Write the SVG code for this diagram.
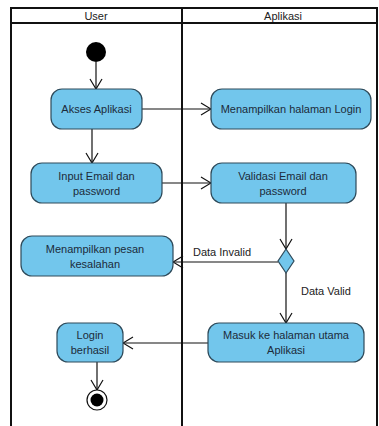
<svg xmlns="http://www.w3.org/2000/svg" width="379" height="426" viewBox="0 0 379 426">
<style>
.frame{fill:none;stroke:#111;stroke-width:2}
.node{fill:#72C6EC;stroke:#2E4A5A;stroke-width:1.2}
.t{font-family:"Liberation Sans",Arial,sans-serif;font-size:11px;fill:#1C2B3A;text-anchor:middle}
.h{font-family:"Liberation Sans",Arial,sans-serif;font-size:11px;fill:#222;text-anchor:middle}
.lbl{font-family:"Liberation Sans",Arial,sans-serif;font-size:11px;fill:#222}
.c{fill:none;stroke:#111;stroke-width:1.2}
</style>
<defs>
<marker id="arr" markerUnits="userSpaceOnUse" markerWidth="12" markerHeight="14" viewBox="0 0 12 14" refX="11" refY="7" orient="auto">
<path d="M1,1 L11,7 L1,13" fill="none" stroke="#111" stroke-width="1.2"/>
</marker>
</defs>
<g id="swimlanes">
<rect class="frame" x="11" y="8" width="366" height="420"/>
<line class="frame" x1="11" y1="23" x2="377" y2="23"/>
<line class="frame" x1="182" y1="8" x2="182" y2="428"/>
<text class="h" x="96" y="20">User</text>
<text class="h" x="283" y="20">Aplikasi</text>
</g>
<g id="connectors">
<line class="c" x1="96" y1="62" x2="96" y2="89" marker-end="url(#arr)"/>
<line class="c" x1="142" y1="109" x2="211" y2="109" marker-end="url(#arr)"/>
<line class="c" x1="92" y1="129" x2="92" y2="163" marker-end="url(#arr)"/>
<line class="c" x1="162" y1="183" x2="211" y2="183" marker-end="url(#arr)"/>
<line class="c" x1="286" y1="203" x2="286" y2="249" marker-end="url(#arr)"/>
<line class="c" x1="278" y1="262" x2="173" y2="262" marker-end="url(#arr)"/>
<line class="c" x1="286" y1="273" x2="286" y2="323" marker-end="url(#arr)"/>
<line class="c" x1="208" y1="343" x2="123" y2="343" marker-end="url(#arr)"/>
<line class="c" x1="97" y1="362" x2="97" y2="390" marker-end="url(#arr)"/>
<text class="lbl" x="193" y="256">Data Invalid</text>
<text class="lbl" x="301" y="295">Data Valid</text>
</g>
<g id="start"><circle cx="96" cy="52" r="10" fill="#000"/></g>
<g id="akses">
<rect class="node" x="51" y="89" width="91" height="40" rx="11"/>
<text class="t" x="96.5" y="113">Akses Aplikasi</text>
</g>
<g id="menampilkan-login">
<rect class="node" x="211" y="89" width="160" height="40" rx="11"/>
<text class="t" x="291" y="113">Menampilkan halaman Login</text>
</g>
<g id="input">
<rect class="node" x="31" y="163" width="131" height="40" rx="11"/>
<text class="t" x="96.5" y="180">Input Email dan</text>
<text class="t" x="96.5" y="195">password</text>
</g>
<g id="validasi">
<rect class="node" x="211" y="163" width="145" height="40" rx="11"/>
<text class="t" x="283" y="180">Validasi Email dan</text>
<text class="t" x="283" y="195">password</text>
</g>
<g id="decision">
<polygon class="node" points="286,249 294,261 286,273 278,261"/>
</g>
<g id="pesan">
<rect class="node" x="21" y="236" width="152" height="40" rx="11"/>
<text class="t" x="95" y="253">Menampilkan pesan</text>
<text class="t" x="95" y="268">kesalahan</text>
</g>
<g id="masuk">
<rect class="node" x="208" y="323" width="156" height="39" rx="11"/>
<text class="t" x="286" y="339">Masuk ke halaman utama</text>
<text class="t" x="286" y="354">Aplikasi</text>
</g>
<g id="login-berhasil">
<rect class="node" x="57" y="323" width="66" height="39" rx="11"/>
<text class="t" x="90" y="339">Login</text>
<text class="t" x="90" y="354">berhasil</text>
</g>
<g id="end">
<circle cx="97" cy="400" r="10" fill="#fff" stroke="#111" stroke-width="1.2"/>
<circle cx="97" cy="400" r="6.5" fill="#000"/>
</g>
</svg>
